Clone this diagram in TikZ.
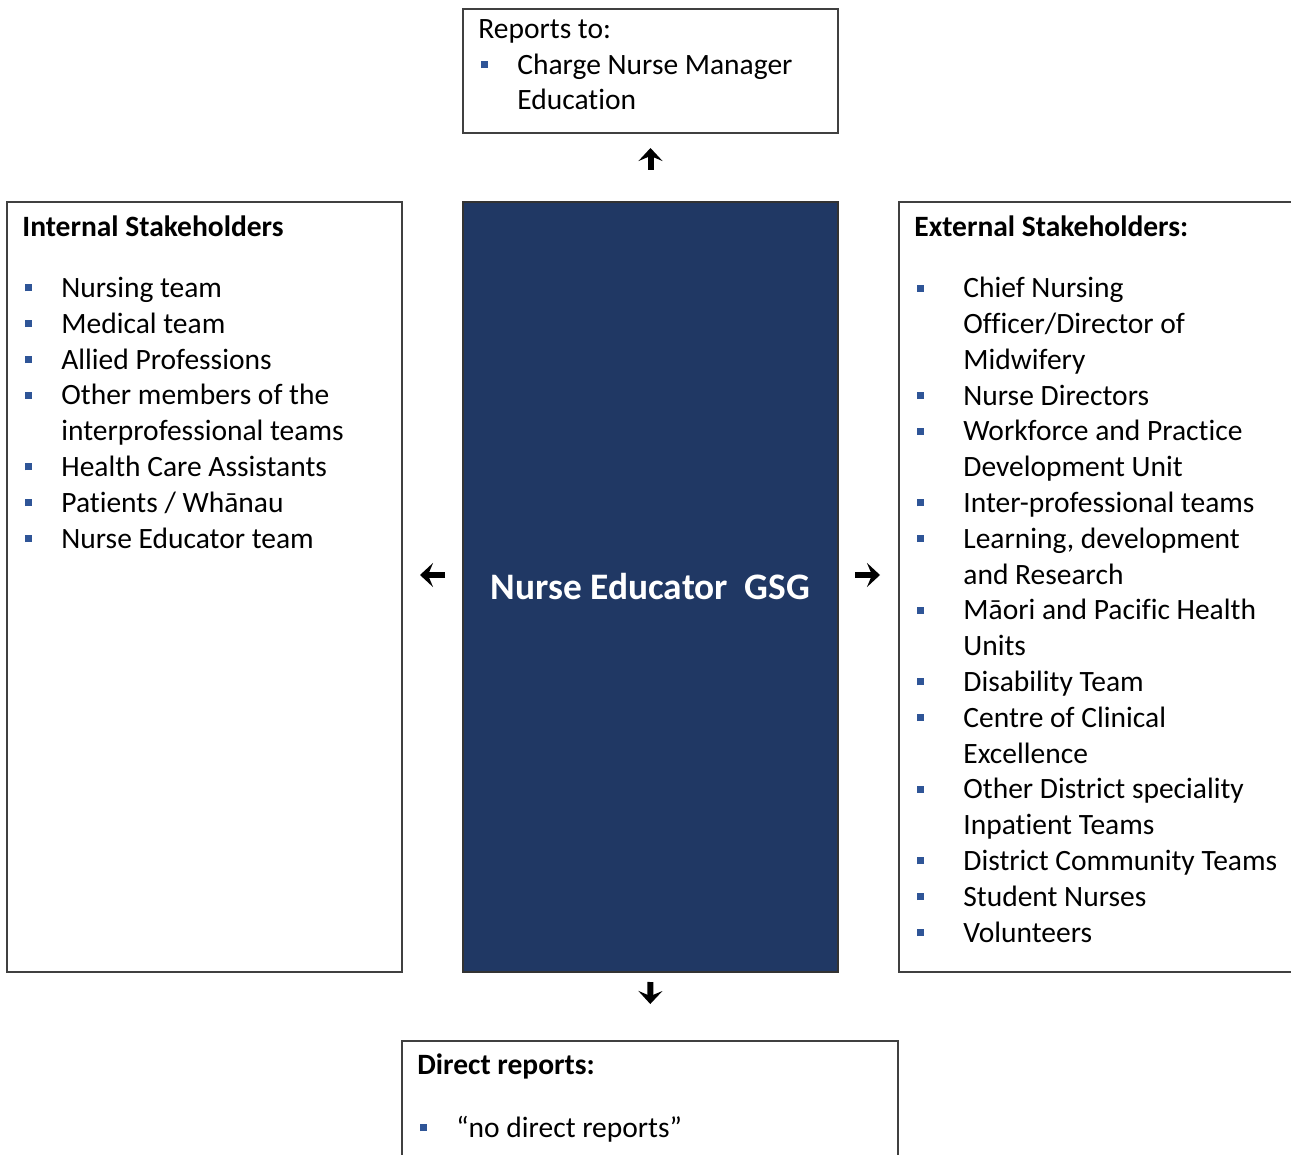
\documentclass[tikz,border=0pt]{standalone}
\usepackage{fontspec}
\setmainfont{Carlito}[Ligatures=NoCommon]
\usetikzlibrary{arrows.meta}

\definecolor{navy}{RGB}{32,56,100}
\definecolor{bulblue}{RGB}{47,85,151}
\definecolor{edgegray}{RGB}{64,64,64}

\newcommand\sqbul{\textcolor{bulblue}{\rule[3pt]{3.5pt}{3.5pt}}}
\newcommand\itm[2][19.5pt]{\makebox[#1][l]{\hspace{1.5pt}\sqbul}#2}
\newcommand\cont[2][19.5pt]{\hspace*{#1}#2}

\begin{document}
\begin{tikzpicture}[x=0.5pt,y=-0.5pt]
    \clip (0,0) rectangle (1291,1155);

    \begin{scope}[every node/.style={rectangle, draw=edgegray, line width=0.7pt, inner sep=0pt, outer sep=0pt, anchor=north west}]
        \node[minimum width=187.5pt, minimum height=62pt] (top) at (463,9) {};
        \node[minimum width=187.5pt, minimum height=385pt, fill=navy, draw=black!80] (nurse) at (463,202) {};
        \node[minimum width=197.5pt, minimum height=385pt] (internal) at (7,202) {};
        \node[minimum width=200.5pt, minimum height=385pt] (external) at (899,202) {};
        \node[minimum width=248pt, minimum height=62pt] (direct) at (402,1041) {};
    \end{scope}

    \node[text=white, font=\bfseries\fontsize{18.7}{22}\selectfont] (title) at (nurse.center) {Nurse Educator\ \ GSG};

    % lists are placed by the baseline of their last line
    \begin{scope}[every node/.style={anchor=base west, inner sep=0pt, align=left, font=\fontsize{14.75}{17.9}\selectfont}]
        \node (reports) at (478,110) {Reports to:\\
            \itm{Charge Nurse Manager}\\
            \cont{Education}};
        \node (intlist) at (22,548) {\textbf{Internal Stakeholders}\\[12.6pt]
            \itm{Nursing team}\\
            \itm{Medical team}\\
            \itm{Allied Professions}\\
            \itm{Other members of the}\\
            \cont{interprofessional teams}\\
            \itm{Health Care Assistants}\\
            \itm{Patients / Whānau}\\
            \itm{Nurse Educator team}};
        \node (extlist) at (914,942) {\textbf{External Stakeholders:}\\[12.6pt]
            \itm[24.5pt]{Chief Nursing}\\
            \cont[24.5pt]{Officer/Director of}\\
            \cont[24.5pt]{Midwifery}\\
            \itm[24.5pt]{Nurse Directors}\\
            \itm[24.5pt]{Workforce and Practice}\\
            \cont[24.5pt]{Development Unit}\\
            \itm[24.5pt]{Inter-professional teams}\\
            \itm[24.5pt]{Learning, development}\\
            \cont[24.5pt]{and Research}\\
            \itm[24.5pt]{Māori and Pacific Health}\\
            \cont[24.5pt]{Units}\\
            \itm[24.5pt]{Disability Team}\\
            \itm[24.5pt]{Centre of Clinical}\\
            \cont[24.5pt]{Excellence}\\
            \itm[24.5pt]{Other District speciality}\\
            \cont[24.5pt]{Inpatient Teams}\\
            \itm[24.5pt]{District Community Teams}\\
            \itm[24.5pt]{Student Nurses}\\
            \itm[24.5pt]{Volunteers}};
        \node (dirlist) at (417,1137) {\textbf{Direct reports:}\\[13.5pt]
            \itm{“no direct reports”}};
    \end{scope}

    \begin{scope}[line width=3pt, -{Stealth[length=6.5pt, width=12pt, inset=2.5pt]}]
        \draw[shorten <=16pt, shorten >=7.5pt] (nurse.north) -- (top.south);
        \draw[shorten <=5pt, shorten >=18.5pt] (nurse.south) -- (direct.north);
        \draw[shorten <=9pt, shorten >=9pt] ([yshift=6pt]nurse.west) -- ([yshift=6pt]internal.east);
        \draw[shorten <=8.5pt, shorten >=9.5pt] ([yshift=6pt]nurse.east) -- ([yshift=6pt]external.west);
    \end{scope}
\end{tikzpicture}
\end{document}
